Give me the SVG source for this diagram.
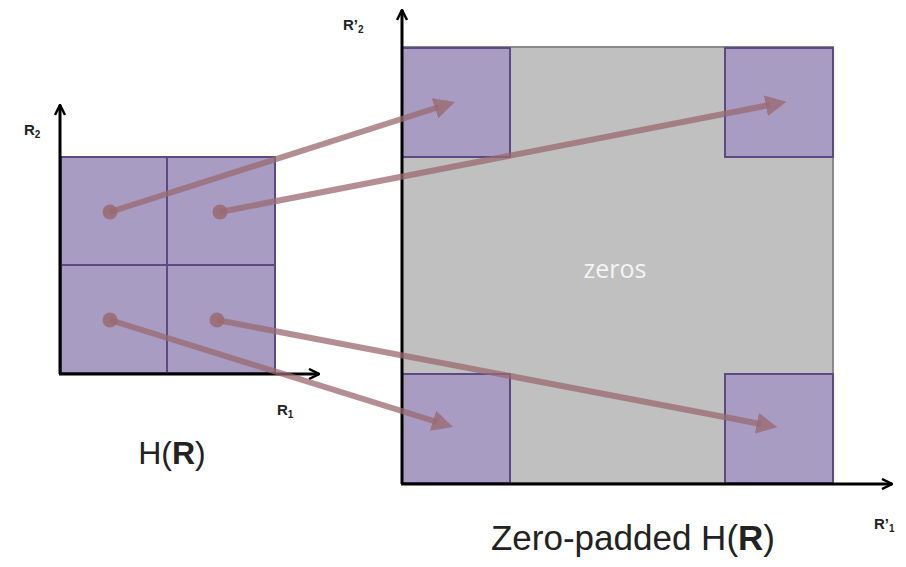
<svg xmlns="http://www.w3.org/2000/svg" width="906" height="567" viewBox="0 0 906 567">
<style>
.cell{fill:#a99cc3;stroke:#5c4a82;stroke-width:2}
.axis{stroke:#000;stroke-width:3;fill:none}
.arr{stroke:#9a6a70;stroke-opacity:0.75;stroke-width:6;fill:none}
.dot{fill:#9a6a70;fill-opacity:0.85}
.lbl{font-family:"Liberation Sans",Arial,sans-serif;fill:#222}
.ax{font-family:"Liberation Sans",Arial,sans-serif;font-weight:bold;fill:#222;font-size:15px}
</style>
<defs>
<marker id="ah" viewBox="0 0 10 10" refX="2" refY="5" markerWidth="3.5" markerHeight="3.5" orient="auto" markerUnits="strokeWidth">
<path d="M0,0 L10,5 L0,10 z" fill="#9a6a70" fill-opacity="0.8"/>
</marker>
<marker id="ax" viewBox="0 0 12 12" refX="11" refY="6" markerWidth="12" markerHeight="12" orient="auto" markerUnits="userSpaceOnUse">
<path d="M1,1 L11,6 L1,11" fill="none" stroke="#000" stroke-width="2.5" stroke-linejoin="miter"/>
</marker>
</defs>
<g id="small-grid">
<rect class="cell" x="61" y="157" width="106" height="108"/>
<rect class="cell" x="167" y="157" width="108" height="108"/>
<rect class="cell" x="61" y="265" width="106" height="108"/>
<rect class="cell" x="167" y="265" width="108" height="108"/>
</g>
<g id="small-axes">
<line class="axis" x1="60" y1="374" x2="60" y2="105" marker-end="url(#ax)"/>
<line class="axis" x1="59" y1="374" x2="319" y2="374" marker-end="url(#ax)"/>
<text class="ax" x="24" y="135">R<tspan font-size="10" dy="3">2</tspan></text>
<text class="ax" x="277" y="415">R<tspan font-size="10" dy="3">1</tspan></text>
</g>
<g id="padded">
<rect x="402" y="47" width="431" height="436" fill="#c0c0c0" stroke="#8a8a8a" stroke-width="2"/>
<rect class="cell" x="402" y="48" width="108" height="109"/>
<rect class="cell" x="725" y="48" width="108" height="109"/>
<rect class="cell" x="402" y="374" width="108" height="109"/>
<rect class="cell" x="725" y="374" width="108" height="109"/>
<text x="615" y="278" font-family="'Open Sans',sans-serif" font-size="25" fill="#f4f4f4" text-anchor="middle">zeros</text>
</g>
<g id="padded-axes">
<line class="axis" x1="402" y1="484" x2="402" y2="10" marker-end="url(#ax)"/>
<line class="axis" x1="401" y1="484" x2="892" y2="484" marker-end="url(#ax)"/>
<text class="ax" x="343" y="30">R’<tspan font-size="10" dy="3">2</tspan></text>
<text class="ax" x="874" y="529">R’<tspan font-size="10" dy="3">1</tspan></text>
</g>
<g id="connectors">
<circle class="dot" cx="110" cy="212" r="7.5"/>
<circle class="dot" cx="220" cy="212" r="7.5"/>
<circle class="dot" cx="110" cy="320" r="7.5"/>
<circle class="dot" cx="217" cy="320" r="7.5"/>
<line class="arr" x1="110" y1="212" x2="439" y2="107" marker-end="url(#ah)"/>
<line class="arr" x1="220" y1="212" x2="770" y2="105" marker-end="url(#ah)"/>
<line class="arr" x1="110" y1="320" x2="437" y2="422" marker-end="url(#ah)"/>
<line class="arr" x1="217" y1="320" x2="761" y2="424" marker-end="url(#ah)"/>
</g>
<g id="labels">
<text class="lbl" x="172" y="464" font-size="32" text-anchor="middle">H(<tspan font-weight="bold">R</tspan>)</text>
<text class="lbl" x="633" y="550" font-size="35" text-anchor="middle">Zero-padded H(<tspan font-weight="bold">R</tspan>)</text>
</g>
</svg>
